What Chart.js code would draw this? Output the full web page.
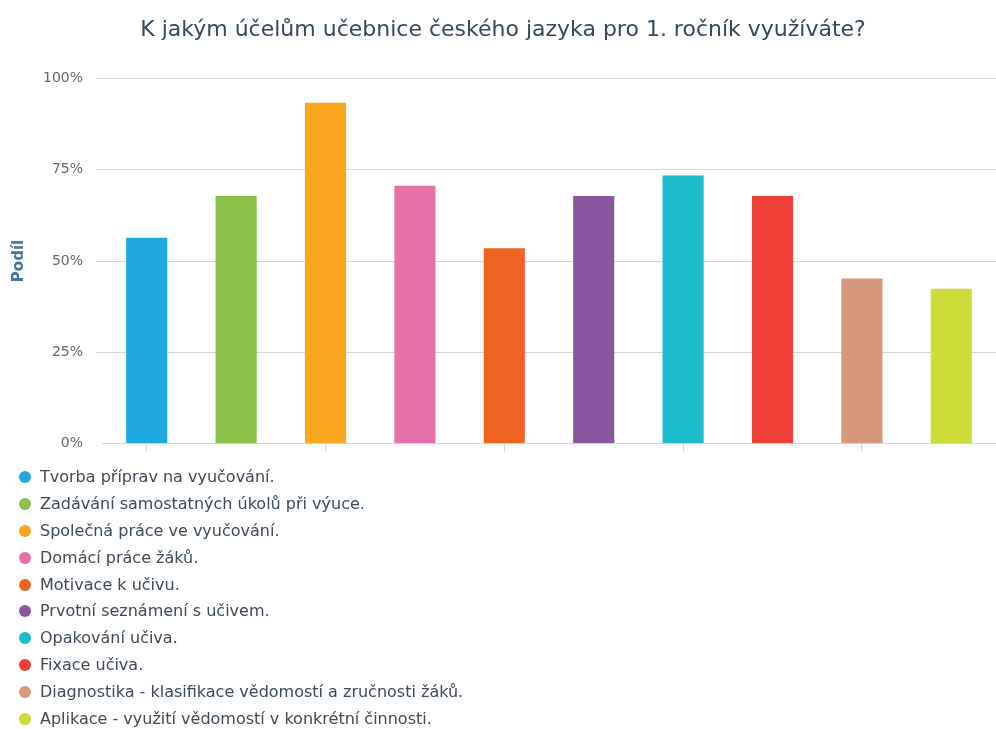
<!DOCTYPE html>
<html>
<head>
<meta charset="utf-8">
<script src="https://cdn.jsdelivr.net/npm/chart.js@4/dist/chart.umd.min.js"></script>
<style>
    body { margin: 0; background: #fff; }
    #wrap { position: relative; width: 996px; height: 729px; }
    #plot { position: absolute; left: 0; top: 0; width: 996px; height: 465px; }
    #legend { position: absolute; left: 19px; top: 464px; font-family: "DejaVu Sans", sans-serif; font-size: 16px; color: #3d4a57; }
    #legend div { height: 26.9px; line-height: 26.9px; white-space: nowrap; }
    #legend span.dot { display: inline-block; width: 12px; height: 12px; border-radius: 50%; margin-right: 9px; vertical-align: -1px; }
</style>
</head>
<body>
<div id="wrap">
    <div id="plot"><canvas id="chart"></canvas></div>
    <div id="legend"></div>
</div>
<script>
// chart data
const categories = [
    'Tvorba příprav na vyučování.',
    'Zadávání samostatných úkolů při výuce.',
    'Společná práce ve vyučování.',
    'Domácí práce žáků.',
    'Motivace k učivu.',
    'Prvotní seznámení s učivem.',
    'Opakování učiva.',
    'Fixace učiva.',
    'Diagnostika - klasifikace vědomostí a zručnosti žáků.',
    'Aplikace - využití vědomostí v konkrétní činnosti.'
];
const shares = [56.4, 67.8, 93.3, 70.6, 53.5, 67.8, 73.4, 67.8, 45.2, 42.4];
const barColors = ['#1ea8e0', '#8bc34a', '#faa61e', '#e56fa9', '#f06423', '#8c55a0', '#1bbdcc', '#ef3f36', '#d6977b', '#cddc39'];
const yTicks = [0, 25, 50, 75, 100];

document.addEventListener('DOMContentLoaded', function() {
    const datasets = categories.map((label, i) => ({
        label: label,
        data: shares.map((v, j) => j === i ? v : null),
        backgroundColor: barColors[i],
        borderWidth: 0,
        grouped: false,
        barPercentage: 0.46,
        categoryPercentage: 1
    }));

    new Chart(document.getElementById('chart'), {
        type: 'bar',
        data: { labels: categories, datasets: datasets },
        options: {
            responsive: true,
            maintainAspectRatio: false,
            animation: false,
            layout: { padding: { left: 10, right: 0, top: 0, bottom: 0 } },
            plugins: {
                legend: { display: false },
                tooltip: { enabled: false },
                title: {
                    display: true,
                    text: 'K jakým účelům učebnice českého jazyka pro 1. ročník využíváte?',
                    color: '#34495e',
                    font: { family: 'DejaVu Sans', size: 22, weight: 'normal' },
                    padding: { top: 17, bottom: 35 }
                }
            },
            scales: {
                x: {
                    offset: true,
                    ticks: { display: false },
                    grid: {
                        offset: false,
                        drawOnChartArea: false,
                        drawTicks: true,
                        tickLength: 8,
                        color: ctx => ctx.index % 2 === 0 ? '#ccd6eb' : 'rgba(0,0,0,0)'
                    },
                    border: { display: true, color: '#ccd6eb', width: 1 }
                },
                y: {
                    min: 0,
                    max: 100,
                    afterBuildTicks: axis => { axis.ticks = yTicks.map(v => ({ value: v })); },
                    ticks: {
                        padding: 13,
                        color: '#666',
                        font: { family: 'DejaVu Sans', size: 14 },
                        callback: v => v + '%'
                    },
                    grid: {
                        color: ctx => ctx.tick && ctx.tick.value === 0 ? 'rgba(0,0,0,0)' : '#d6d6d6',
                        lineWidth: 1,
                        drawTicks: true,
                        tickLength: 6
                    },
                    border: { display: false },
                    title: {
                        display: true,
                        text: 'Podíl',
                        color: '#4572a7',
                        font: { family: 'DejaVu Sans', size: 15, weight: 'bold' },
                        padding: { top: 0, bottom: 2 }
                    }
                }
            }
        }
    });

    // legend, one item per line
    const legend = document.getElementById('legend');
    categories.forEach((label, i) => {
        const row = document.createElement('div');
        row.innerHTML = `<span class="dot" style="background:${barColors[i]}"></span>${label}`;
        legend.appendChild(row);
    });
});
</script>
</body>
</html>
